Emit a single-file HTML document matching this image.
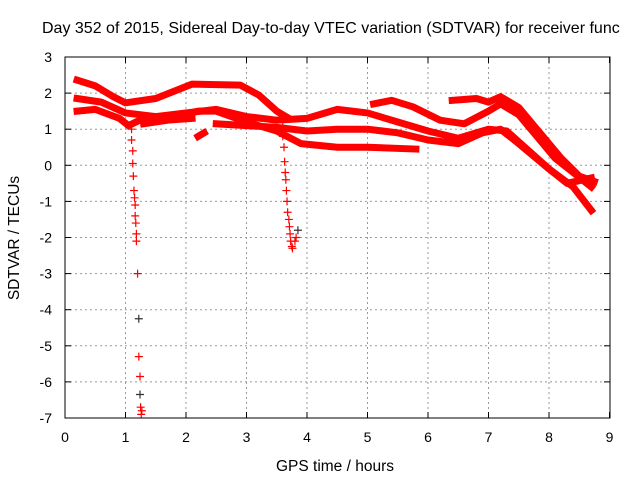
<!DOCTYPE html>
<html><head><meta charset="utf-8"><style>
body{margin:0;background:#fff;}
svg text{font-family:"Liberation Sans",sans-serif;}
</style></head><body>
<svg id="chart" width="640" height="480" xmlns="http://www.w3.org/2000/svg">
<rect width="640" height="480" fill="#fff"/>
<text x="42" y="33" font-size="16" fill="#000">Day 352 of 2015, Sidereal Day-to-day VTEC variation (SDTVAR) for receiver func</text>
<text x="335" y="471" font-size="15.5" text-anchor="middle">GPS time / hours</text>
<text transform="translate(19,238) rotate(-90)" font-size="15.5" text-anchor="middle">SDTVAR / TECUs</text>
<g id="grid"></g><g id="ticks"></g><g id="series"></g>
<rect x="65" y="57" width="545" height="361" fill="none" stroke="#000" stroke-width="1"/>
</svg>
<script>
const xTicks=[0,1,2,3,4,5,6,7,8,9];
const yTicks=[3,2,1,0,-1,-2,-3,-4,-5,-6,-7];
const s1=[[0.2,2.36],[0.5,2.2],[0.8,1.9],[1.0,1.73],[1.5,1.85],[2.1,2.25],[2.9,2.22],[3.2,1.95],[3.5,1.5],[3.7,1.3]];
const s2=[[0.2,1.85],[0.6,1.75],[1.0,1.45],[1.5,1.35],[2.0,1.45],[2.5,1.55],[3.0,1.35],[3.5,1.25],[4.0,1.3],[4.5,1.55],[5.0,1.45],[5.5,1.2],[6.0,0.95],[6.5,0.75],[7.0,1.0],[7.3,0.95],[7.6,0.5],[8.0,-0.1],[8.4,-0.6],[8.7,-1.25]];
const s3=[[0.2,1.5],[0.5,1.55],[0.9,1.3],[1.05,1.1],[1.3,1.3],[1.8,1.35],[2.2,1.5],[2.5,1.5],[3.0,1.2],[3.5,0.95],[3.9,0.6],[4.5,0.5],[5.0,0.5],[5.8,0.45]];
const s4=[[2.5,1.15],[3.0,1.1],[3.5,1.05],[4.0,0.95],[4.5,1.0],[5.0,1.0],[5.5,0.9],[6.0,0.7],[6.5,0.6],[6.9,0.9],[7.2,1.0],[7.5,0.6],[8.0,-0.1],[8.3,-0.5],[8.7,-0.35]];
const s5=[[5.1,1.7],[5.4,1.8],[5.75,1.62],[6.2,1.25],[6.6,1.15],[7.0,1.5],[7.2,1.7],[7.5,1.4],[7.8,0.8],[8.1,0.2],[8.4,-0.2],[8.7,-0.6]];
const s6=[[6.4,1.8],[6.8,1.85],[7.0,1.75],[7.2,1.9],[7.5,1.6],[7.8,1.0],[8.2,0.2],[8.5,-0.3],[8.75,-0.45]];
const s7=[[1.3,1.15],[1.7,1.25],[2.1,1.3]];
const s8=[[2.2,0.8],[2.3,0.9]];
const series=[s1,s2,s3,s4,s5,s6,s7,s8];
const spike1=[[1.1,1.0],[1.1,0.7],[1.12,0.4],[1.12,0.05],[1.13,-0.3],[1.14,-0.7],[1.15,-0.9],[1.16,-1.1],[1.16,-1.4],[1.17,-1.6],[1.18,-1.9],[1.18,-2.1],[1.2,-3.0],[1.22,-5.3],[1.24,-5.85],[1.25,-6.7],[1.27,-6.8],[1.26,-6.9]];
const spike2=[[3.6,1.2],[3.6,0.8],[3.62,0.5],[3.63,0.1],[3.64,-0.2],[3.65,-0.4],[3.66,-0.7],[3.67,-1.0],[3.68,-1.3],[3.7,-1.5],[3.71,-1.7],[3.72,-1.9],[3.73,-2.1],[3.75,-2.25],[3.76,-2.3],[3.8,-2.1],[3.82,-2.0]];
const blackPts=[[1.22,-4.25],[1.24,-6.35],[3.85,-1.8]];
const X=h=>65+h*60.5, Y=v=>57+(3-v)*36.1;
const NS="http://www.w3.org/2000/svg";
const mk=(t,a,p)=>{const e=document.createElementNS(NS,t);for(const k in a)e.setAttribute(k,a[k]);p.appendChild(e);return e;};
const g=document.getElementById('grid'),tk=document.getElementById('ticks'),sg=document.getElementById('series');
xTicks.forEach(t=>{
 if(t>0&&t<9){const l=mk('line',{x1:X(t),x2:X(t),y1:57,y2:418,stroke:'#999','stroke-dasharray':'2,3'},g);
 
 }
 const tx=mk('text',{x:X(t),y:442,'font-size':'14','text-anchor':'middle'},tk);tx.textContent=t;
 
 
 mk('line',{x1:X(t),x2:X(t),y1:418,y2:412,stroke:'#000'},tk);mk('line',{x1:X(t),x2:X(t),y1:57,y2:63,stroke:'#000'},tk);
});
yTicks.forEach(t=>{
 if(t<3&&t>-7){const l=mk('line',{x1:65,x2:610,y1:Y(t),y2:Y(t),stroke:'#999','stroke-dasharray':'2,3'},g);
 
 }
 const tx=mk('text',{x:52,y:Y(t)+5,'font-size':'14','text-anchor':'end'},tk);tx.textContent=t;
 
 
 mk('line',{x1:65,x2:71,y1:Y(t),y2:Y(t),stroke:'#000'},tk);mk('line',{x1:610,x2:604,y1:Y(t),y2:Y(t),stroke:'#000'},tk);
});
series.forEach((s,i)=>{
 const p=mk('polyline',{points:s.map(d=>X(d[0])+','+Y(d[1])).join(' '),fill:'none',stroke:'#f00','stroke-width':7,'stroke-linejoin':'round','stroke-linecap':'square'},sg);
 
 
});
const plus=(d,c)=>{const x=X(d[0]),y=Y(d[1]);
 const e=mk('path',{d:`M${x-4},${y}H${x+4}M${x},${y-4}V${y+4}`,stroke:c,'stroke-width':1.2},sg);
 
 };
spike1.concat(spike2).forEach(d=>plus(d,'#f00'));
blackPts.forEach(d=>plus(d,'#333'));
</script>
</body></html>
